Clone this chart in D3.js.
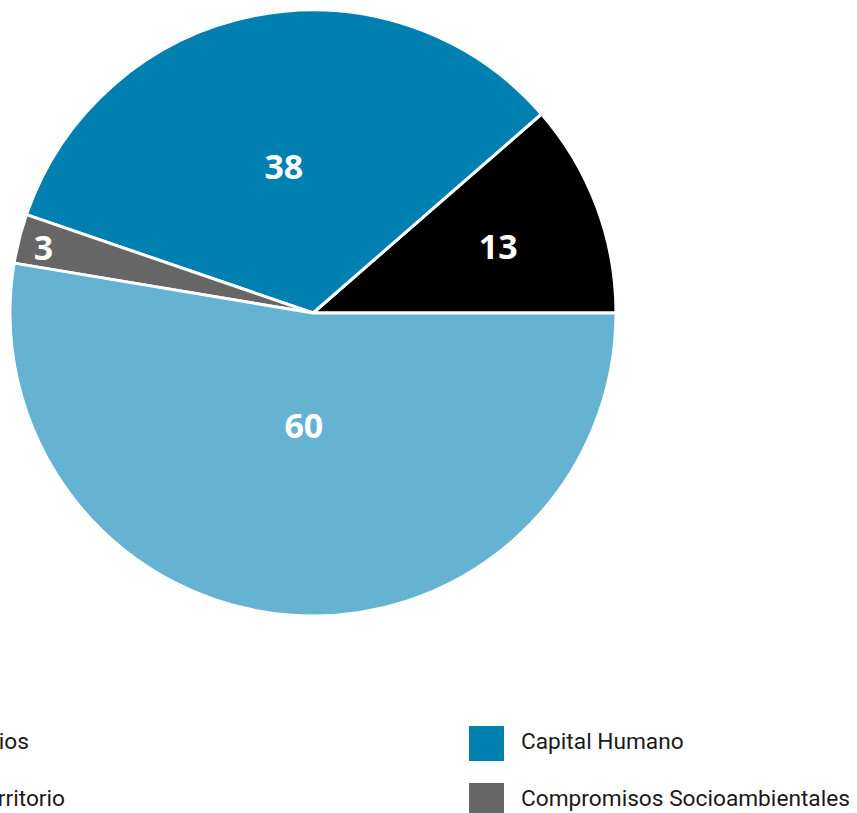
<!DOCTYPE html>
<html>
<head>
<meta charset="utf-8">
<script src="https://cdn.jsdelivr.net/npm/d3@7"></script>
<style>
  html, body { margin: 0; padding: 0; background: #fff; overflow: hidden; }
  svg { display: block; }
</style>
</head>
<body>
<svg id="chart" width="857" height="813"></svg>
<script>
// datos (orden del pastel, antihorario desde las 3)
const categories = ['Proveedores y Socios', 'Capital Humano', 'Compromisos Socioambientales', 'Comunidades y Territorio'];
const values = [13, 38, 3, 60];
const colors = ['#000000', '#0080b1', '#666666', '#66b2d2'];
// orden de la leyenda (por filas, dos columnas)
const legendOrder = ['Proveedores y Socios', 'Capital Humano', 'Comunidades y Territorio', 'Compromisos Socioambientales'];

const cx = 313, cy = 313, radius = 303;

const svg = d3.select('#chart');

const pie = d3.pie()
	.sort(null)
	.value(d => d)
	.startAngle(Math.PI / 2)
	.endAngle(Math.PI / 2 - 2 * Math.PI);

const arc = d3.arc().innerRadius(0).outerRadius(radius);

const arcs = pie(values);

const g = svg.append('g').attr('transform', `translate(${cx},${cy})`);

g.selectAll('path')
	.data(arcs)
	.enter().append('path')
	.attr('d', arc)
	.attr('fill', (d, i) => colors[i])
	.attr('stroke', '#fff')
	.attr('stroke-width', 3)
	.attr('stroke-linejoin', 'round');

// etiqueta cerca del centroide del sector; si es muy estrecho va junto al borde
function labelPos(d) {
	const a = Math.abs(d.endAngle - d.startAngle);
	const mid = (d.startAngle + d.endAngle) / 2;
	let r = 4 * radius * Math.sin(a / 2) / (3 * a);
	if (a > 1) r *= 0.91;
	if (a < 0.3) r = radius - 25;
	return [Math.sin(mid) * r, -Math.cos(mid) * r + 2];
}

g.selectAll('text')
	.data(arcs)
	.enter().append('text')
	.attr('x', d => labelPos(d)[0])
	.attr('y', d => labelPos(d)[1])
	.attr('text-anchor', 'middle')
	.attr('dominant-baseline', 'central')
	.attr('fill', '#fff')
	.style('font-family', '"Open Sans", sans-serif')
	.style('font-weight', 700)
	.style('font-size', '34px')
	.text(d => d.data);

// leyenda en dos columnas (la izquierda queda cortada por el borde)
const legend = svg.append('g');
const colX = [-240, 469], rowStep = 57;
const items = legend.selectAll('g')
	.data(legendOrder)
	.enter().append('g')
	.attr('transform', (d, i) => `translate(${colX[i % 2]},${726 + rowStep * Math.floor(i / 2)})`);

items.append('rect')
	.attr('width', 35)
	.attr('height', 35)
	.attr('fill', d => colors[categories.indexOf(d)]);

items.append('text')
	.attr('x', 52)
	.attr('y', 23)
	.attr('fill', '#1a1a1a')
	.style('font-family', 'Roboto, sans-serif')
	.style('font-size', '22.7px')
	.text(d => d);
</script>
</body>
</html>
